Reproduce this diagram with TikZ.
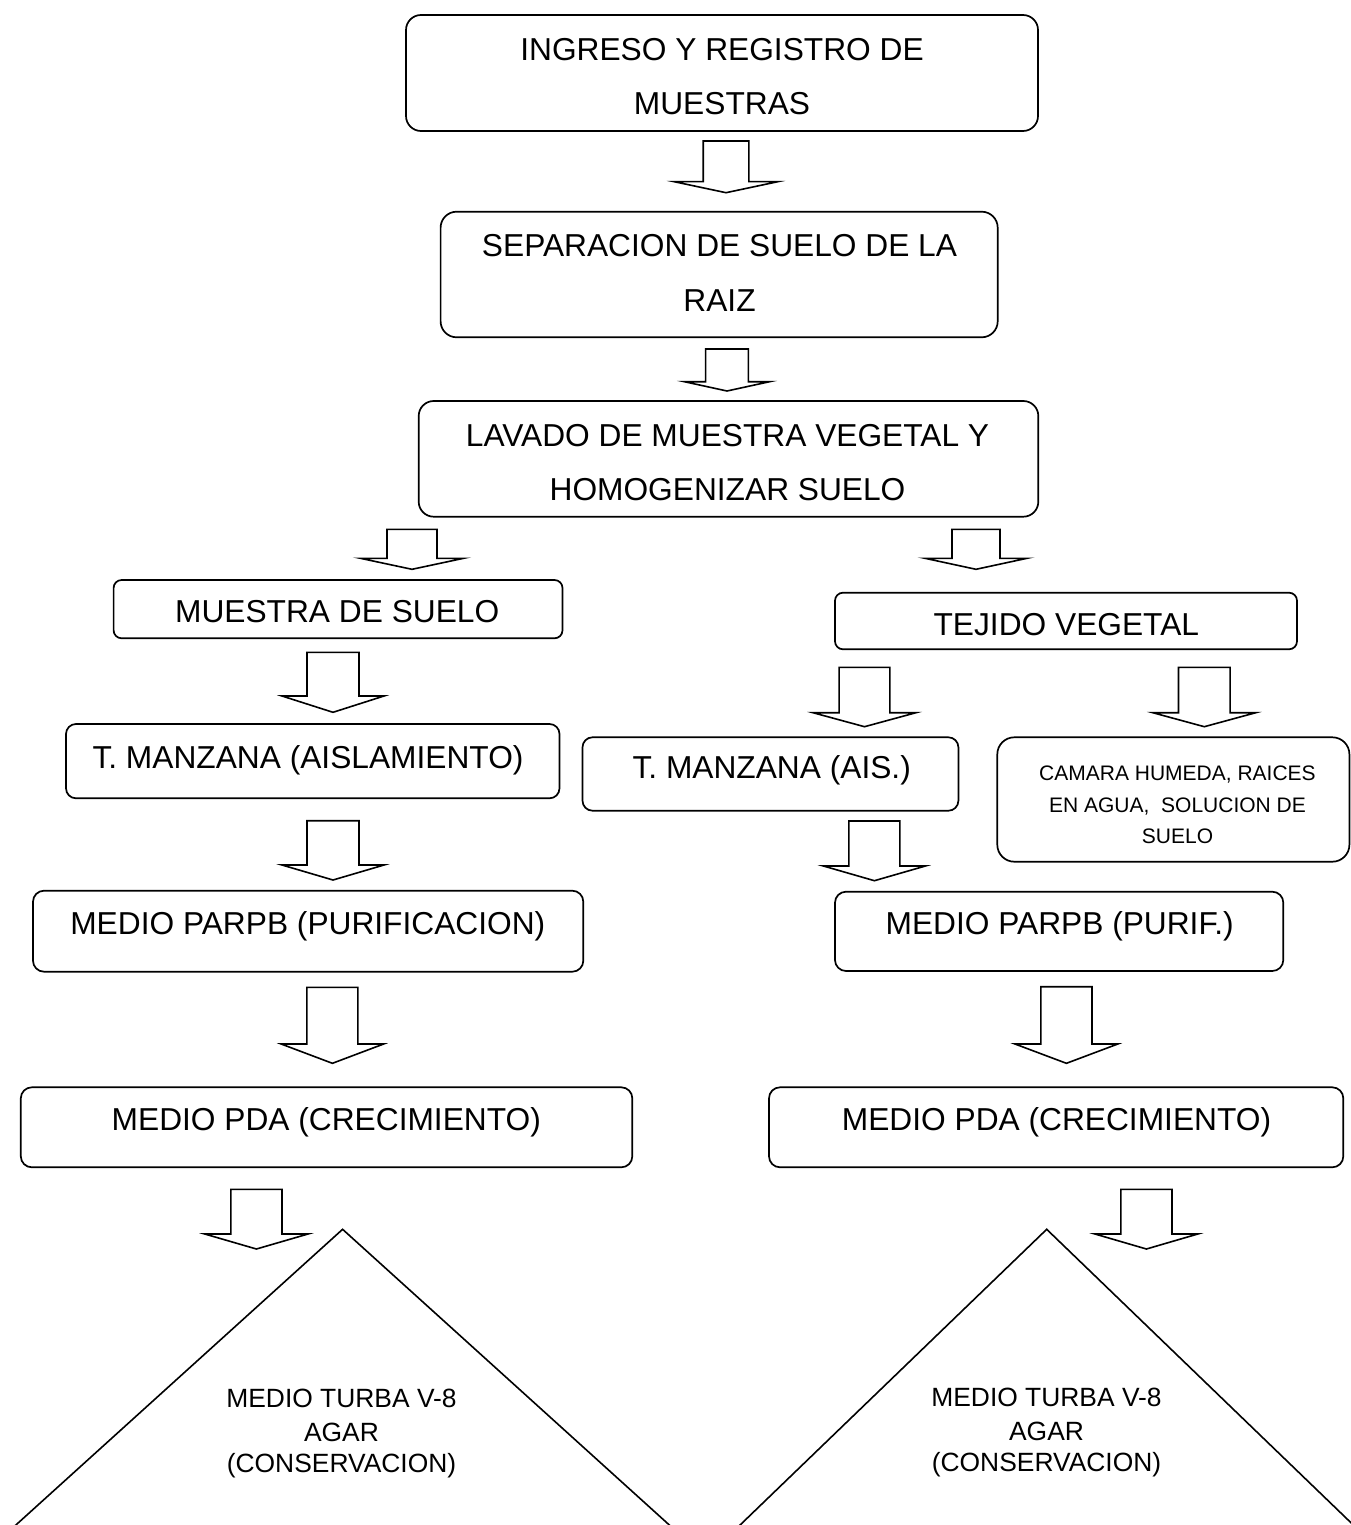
\documentclass[tikz,border=0pt]{standalone}
\usepackage{fontspec}
\setmainfont{Liberation Sans}
\newcommand\fbig{\fontsize{31.7}{38}\selectfont}
\newcommand\fsmall{\fontsize{21}{25}\selectfont}
\newcommand\ftri{\fontsize{26.4}{31}\selectfont}
\newcommand\blockarr[6]{%
  \draw[barrow] ({#1-#5},#2) -- ({#1+#5},#2) -- ({#1+#5},#3) -- ({#1+#6},#3) -- (#1,#4) -- ({#1-#6},#3) -- ({#1-#5},#3) -- cycle;}
\begin{document}
\begin{tikzpicture}[x=1pt,y=-1pt,
  box/.style={draw, line width=1.7pt, inner sep=0pt},
  txt/.style={anchor=base, inner sep=0pt, font=\fbig},
  stxt/.style={anchor=base, inner sep=0pt, font=\fsmall},
  ttxt/.style={anchor=base, inner sep=0pt, font=\ftri},
  barrow/.style={draw, line width=1.6pt, line join=miter, fill=white},
  tri/.style={draw, line width=1.6pt, line join=miter}
]
\useasboundingbox (0,0) rectangle (1351,1525);
\fill[white] (0,0) rectangle (1351,1525);

% boxes
\node[box, rounded corners=15pt, minimum width=632pt, minimum height=116pt] (b1) at (722,73) {};
\node[box, rounded corners=16pt, minimum width=557.1pt, minimum height=125.6pt] (b2) at (719.15,274.5) {};
\node[box, rounded corners=15pt, minimum width=619.6pt, minimum height=115.7pt] (b3) at (728.5,458.85) {};
\node[box, rounded corners=8pt, minimum width=448.9pt, minimum height=58.3pt] (b4) at (338.05,609.15) {};
\node[box, rounded corners=8pt, minimum width=462pt, minimum height=56.6pt] (b5) at (1066,621) {};
\node[box, rounded corners=10pt, minimum width=493.5pt, minimum height=74.3pt] (b6) at (312.75,761.15) {};
\node[box, rounded corners=10pt, minimum width=375.9pt, minimum height=73.4pt] (b7) at (770.45,774) {};
\node[box, rounded corners=17pt, minimum width=352.1pt, minimum height=124.4pt] (b8) at (1173.35,799.5) {};
\node[box, rounded corners=11pt, minimum width=550.3pt, minimum height=81pt] (b9) at (308.15,931.2) {};
\node[box, rounded corners=11pt, minimum width=448.3pt, minimum height=79.3pt] (b10) at (1059.15,931.35) {};
\node[box, rounded corners=11pt, minimum width=611.5pt, minimum height=80pt] (b11) at (326.55,1127.3) {};
\node[box, rounded corners=11pt, minimum width=574.3pt, minimum height=80pt] (b12) at (1056.15,1127.3) {};

% texts
\node[txt] (t1a) at (722,60.35) {INGRESO Y REGISTRO DE};
\node[txt] (t1b) at (722,114.35) {MUESTRAS};
\node[txt] (t2a) at (719.5,256.35) {SEPARACION DE SUELO DE LA};
\node[txt] (t2b) at (719.5,311.35) {RAIZ};
\node[txt] (t3a) at (727.5,446.35) {LAVADO DE MUESTRA VEGETAL Y};
\node[txt] (t3b) at (727.5,500.85) {HOMOGENIZAR SUELO};
\node[txt] (t4) at (337.2,622.35) {MUESTRA DE SUELO};
\node[txt] (t5) at (1066.3,635.35) {TEJIDO VEGETAL};
\node[txt] (t6) at (308,768.85) {T. MANZANA (AISLAMIENTO)};
\node[txt] (t7) at (771.7,778.35) {T. MANZANA (AIS.)};
\node[stxt] (t8a) at (1177.5,780) {CAMARA HUMEDA, RAICES};
\node[stxt] (t8b) at (1177.5,812) {EN AGUA,\ \ SOLUCION DE};
\node[stxt] (t8c) at (1177.5,843.5) {SUELO};
\node[txt] (t9) at (307.8,934.35) {MEDIO PARPB (PURIFICACION)};
\node[txt] (t10) at (1059.7,934.35) {MEDIO PARPB (PURIF.)};
\node[txt] (t11) at (326.3,1130.35) {MEDIO PDA (CRECIMIENTO)};
\node[txt] (t12) at (1056.5,1130.35) {MEDIO PDA (CRECIMIENTO)};

% block arrows: cx, top, shoulder, tip, shaft half width, wing half width
\blockarr{726}{141}{181.7}{192.7}{22.8}{51.8}
\blockarr{727}{349}{381.7}{391}{21.4}{42.6}
\blockarr{412}{529.3}{558.3}{569.3}{25}{51.6}
\blockarr{976}{529.3}{558.3}{569.3}{24}{51}
\blockarr{333}{652.3}{696}{712.3}{26}{51}
\blockarr{864.5}{667.3}{712.7}{726.7}{25.4}{51.5}
\blockarr{1204.3}{667.3}{712.7}{726.7}{25.8}{51.5}
\blockarr{333}{820.7}{865}{880}{26}{51}
\blockarr{874.4}{821}{866}{880.7}{25.5}{51}
\blockarr{332.4}{987.3}{1044}{1063.3}{25.5}{51.2}
\blockarr{1066.4}{986.7}{1044}{1063.3}{25.6}{51.4}
\blockarr{256.4}{1189.3}{1234}{1249}{25.6}{51.6}
\blockarr{1146.4}{1189.3}{1234}{1249}{25.6}{51.4}

% triangles
\begin{scope}
\clip (0,0) rectangle (1351,1525);
\coordinate (apexL) at (342.6,1229.3);
\coordinate (apexR) at (1046.7,1229.3);
\draw[tri] (-67,1600) -- (apexL) -- (752.2,1600);
\draw[tri] (662.3,1600) -- (apexR) -- (1431.1,1600);
\end{scope}
\node[ttxt] (tLa) at (341.5,1407.5) {MEDIO TURBA V-8};
\node[ttxt] (tLb) at (341.5,1441.1) {AGAR};
\node[ttxt] (tLc) at (341.5,1472.5) {(CONSERVACION)};
\node[ttxt] (tRa) at (1046.5,1406.5) {MEDIO TURBA V-8};
\node[ttxt] (tRb) at (1046.5,1440.1) {AGAR};
\node[ttxt] (tRc) at (1046.5,1471.5) {(CONSERVACION)};
\end{tikzpicture}
\end{document}
